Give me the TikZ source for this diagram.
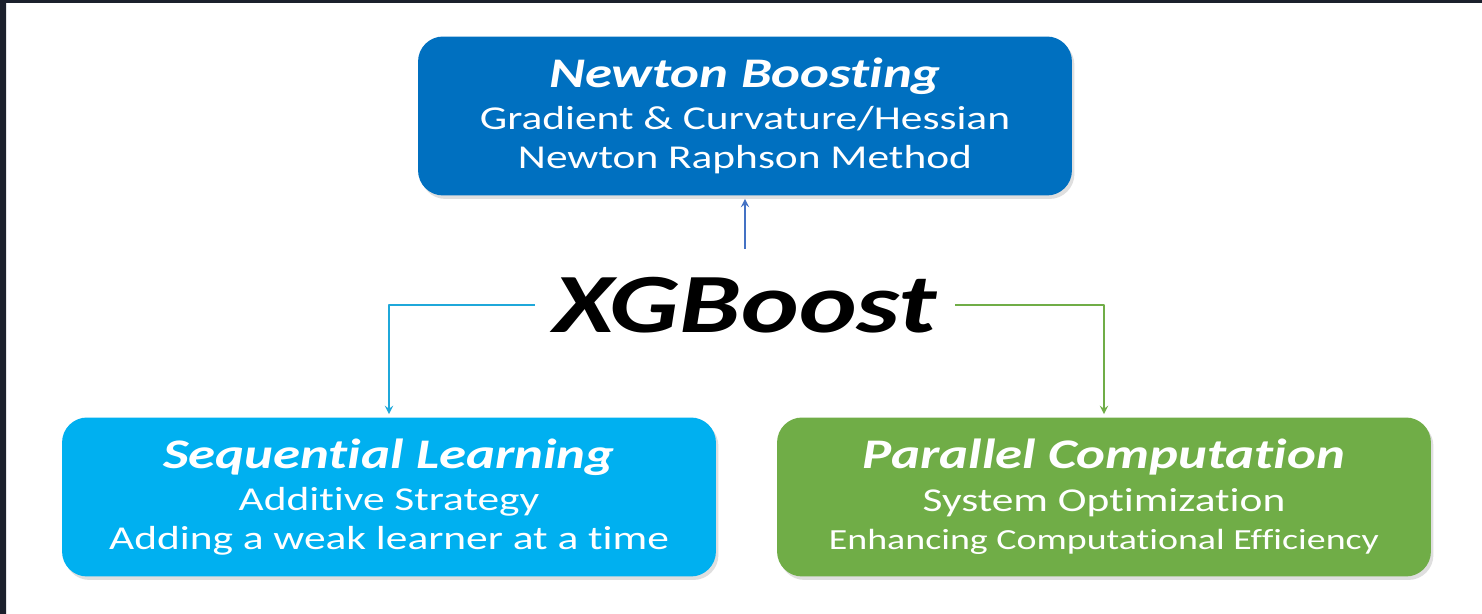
\documentclass[tikz,border=0pt]{standalone}
\usepackage{fontspec}
\setmainfont{Carlito}[FakeStretch=1.3, RawFeature=-liga]
\usetikzlibrary{shadows}
\definecolor{newtonblue}{HTML}{0070C0}
\definecolor{seqblue}{HTML}{00B0F0}
\definecolor{pargreen}{HTML}{70AD47}
\definecolor{arrowblue}{HTML}{4472C4}
\definecolor{lineblue}{HTML}{1FA8DA}
\definecolor{framedark}{HTML}{1B202C}
\tikzset{
  box/.style={rounded corners=0.5cm, minimum width=13.08cm, minimum height=3.18cm, text=white, align=center,
    font=\fontsize{19}{22}\selectfont,
    drop shadow={opacity=0.25, shadow xshift=0.05cm, shadow yshift=-0.07cm}},
  link/.style={line width=1.1pt, ->, shorten >=0.06cm}
}
\newcommand{\boxtitle}[1]{{\fontsize{24}{26}\selectfont\bfseries\itshape #1}}
\begin{document}
\begin{tikzpicture}[x=0.02cm, y=-0.02cm, line join=round, >=stealth]
	\def\W{1482} \def\H{614}
	\fill[white] (0,0) rectangle (\W,\H);
	\fill[framedark] (0,0) rectangle (\W,3) (0,0) rectangle (6,\H);
	\useasboundingbox (0,0) rectangle (\W,\H);
	\node[box, fill=newtonblue] (newton) at (745,116) {\boxtitle{Newton Boosting}\\[2pt]
		Gradient \& Curvature/Hessian\\ Newton Raphson Method};
	\node[box, fill=seqblue] (seq) at (389,497) {\boxtitle{Sequential Learning}\\[2pt]
		Additive Strategy\\ Adding a weak learner at a time};
	\node[box, fill=pargreen] (par) at (1104,497) {\boxtitle{Parallel Computation}\\[2pt]
		System Optimization\\ {\fontsize{16.6}{18}\selectfont Enhancing Computational Efficiency}};
	\node[font=\fontsize{48}{50}\selectfont\bfseries\itshape, inner xsep=0.36cm, inner ysep=0.56cm] (xgb) at (745,305) {XGBoost};
	\draw[link, arrowblue] (xgb.north) -- (newton.south);
	\draw[link, lineblue] (xgb.west) -| (seq.north);
	\draw[link, pargreen] (xgb.east) -| (par.north);
\end{tikzpicture}
\end{document}
